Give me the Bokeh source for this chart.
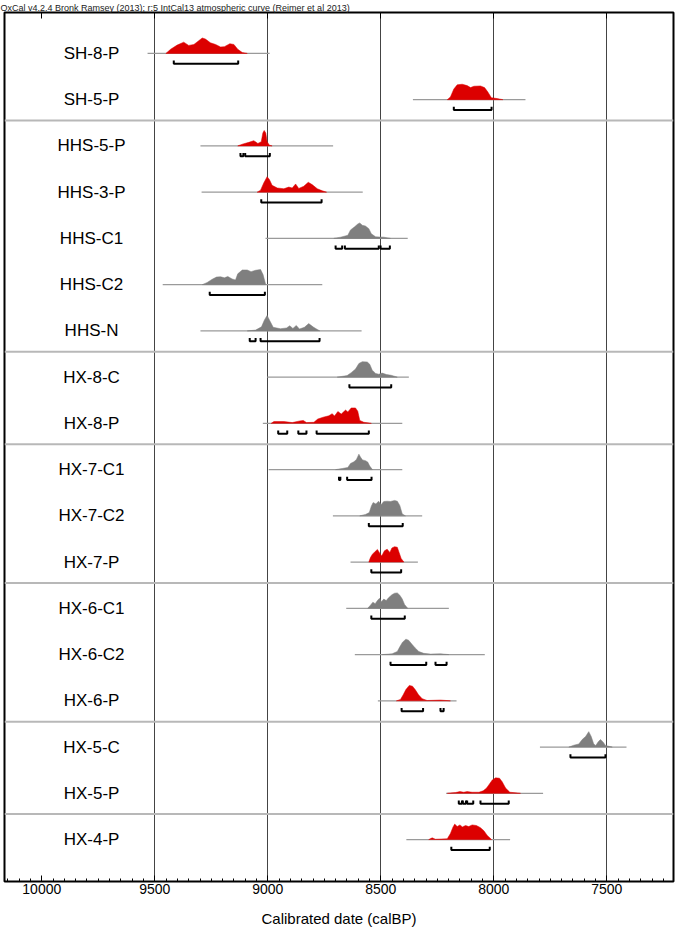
from bokeh.plotting import figure
from bokeh.models import (Range1d, SingleIntervalTicker, FixedTicker, LinearAxis, Span,
                          ColumnDataSource)
from bokeh.embed import file_html
from bokeh.resources import INLINE
from bokeh.core.properties import value

# ---------------- data ----------------
names = ["SH-8-P", "SH-5-P", "HHS-5-P", "HHS-3-P", "HHS-C1", "HHS-C2", "HHS-N",
         "HX-8-C", "HX-8-P", "HX-7-C1", "HX-7-C2", "HX-7-P", "HX-6-C1", "HX-6-C2",
         "HX-6-P", "HX-5-C", "HX-5-P", "HX-4-P"]
is_red = [1, 1, 1, 1, 0, 0, 0, 0, 1, 0, 0, 1, 0, 0, 1, 0, 1, 1]
line_from = [9532, 8358, 9298, 9293, 9010, 9465, 9298, 9003, 9022, 8996, 8712, 8634,
             8653, 8615, 8513, 7796, 8211, 8387]
line_to = [8992, 7860, 8711, 8580, 8381, 8759, 8585, 8376, 8405, 8405, 8317, 8336,
           8199, 8040, 8165, 7413, 7782, 7928]
# group separators drawn below these rows
group_ends = [1, 6, 8, 11, 14, 16]
grid_years = [9500, 9000, 8500, 8000, 7500]

sh8p_t = [9451, 9430, 9401, 9372, 9350, 9327, 9290, 9276, 9254, 9231, 9209, 9192, 9168, 9150, 9133, 9113, 9091]
sh8p_d = [0, 0.27, 0.54, 0.73, 0.52, 0.58, 1.0, 0.93, 0.69, 0.58, 0.42, 0.44, 0.63, 0.58, 0.27, 0.06, 0]
sh5p_t = [8206, 8192, 8177, 8162, 8140, 8118, 8103, 8088, 8059, 8041, 8027, 8011, 7985, 7960]
sh5p_d = [0, 0.18, 0.69, 0.96, 1.0, 0.91, 0.78, 0.87, 0.89, 0.78, 0.51, 0.13, 0.07, 0]
hhs5p_t = [9133, 9113, 9084, 9062, 9044, 9029, 9022, 9016, 9009, 9003, 8993, 8981]
hhs5p_d = [0, 0.11, 0.23, 0.34, 0.16, 0.27, 0.84, 1.0, 0.84, 0.27, 0.05, 0]
hhs3p_t = [9047, 9032, 9018, 9003, 8993, 8981, 8958, 8929, 8907, 8892, 8877, 8863, 8841, 8821, 8804, 8781, 8759, 8740]
hhs3p_d = [0, 0.13, 0.6, 1.0, 0.82, 0.44, 0.27, 0.22, 0.33, 0.27, 0.53, 0.24, 0.38, 0.64, 0.49, 0.22, 0.09, 0]
hhsc1_t = [8708, 8678, 8646, 8634, 8616, 8602, 8593, 8582, 8568, 8553, 8542, 8523, 8487, 8457]
hhsc1_d = [0, 0.08, 0.2, 0.55, 0.75, 0.93, 1.0, 0.85, 0.8, 0.63, 0.3, 0.1, 0.08, 0]
hhsc2_t = [9290, 9268, 9246, 9227, 9209, 9192, 9177, 9158, 9143, 9133, 9113, 9091, 9074, 9054, 9032, 9021, 9009]
hhsc2_d = [0, 0.14, 0.35, 0.49, 0.51, 0.44, 0.53, 0.37, 0.3, 0.7, 0.95, 0.95, 0.84, 0.93, 0.98, 0.65, 0]
hhsn_t = [9091, 9054, 9028, 9015, 9003, 8991, 8976, 8944, 8917, 8903, 8889, 8874, 8860, 8838, 8819, 8797, 8770]
hhsn_d = [0, 0.05, 0.26, 0.7, 1.0, 0.65, 0.23, 0.14, 0.19, 0.33, 0.16, 0.35, 0.12, 0.23, 0.47, 0.23, 0]
hx8c_t = [8693, 8649, 8631, 8612, 8597, 8582, 8560, 8549, 8538, 8523, 8509, 8494, 8475, 8454, 8427]
hx8c_d = [0, 0.1, 0.29, 0.52, 0.88, 1.0, 0.98, 0.83, 0.45, 0.24, 0.19, 0.26, 0.17, 0.12, 0]
hx8p_t = [8985, 8973, 8929, 8892, 8858, 8843, 8829, 8796, 8779, 8755, 8730, 8715, 8705, 8690, 8675, 8656, 8646,
          8631, 8612, 8602, 8593, 8575, 8542]
hx8p_d = [0, 0.12, 0.12, 0.05, 0.16, 0.19, 0.05, 0.07, 0.28, 0.4, 0.49, 0.63, 0.47, 0.77, 0.6, 0.86, 0.74,
          1.0, 1.0, 0.79, 0.19, 0.07, 0]
hx7c1_t = [8700, 8671, 8646, 8634, 8619, 8608, 8597, 8590, 8581, 8568, 8558, 8549, 8537]
hx7c1_d = [0, 0.07, 0.14, 0.4, 0.51, 0.65, 1.0, 0.81, 0.63, 0.58, 0.49, 0.23, 0]
hx7c2_t = [8593, 8568, 8551, 8542, 8534, 8522, 8510, 8498, 8487, 8472, 8457, 8439, 8427, 8416, 8405, 8391]
hx7c2_d = [0, 0.09, 0.21, 0.63, 0.86, 0.77, 0.95, 0.74, 0.93, 0.95, 0.93, 1.0, 0.95, 0.67, 0.12, 0]
hx7p_t = [8553, 8546, 8537, 8525, 8515, 8504, 8496, 8484, 8472, 8460, 8451, 8439, 8427, 8419, 8410, 8398]
hx7p_d = [0, 0.29, 0.51, 0.69, 0.82, 0.56, 0.4, 0.73, 0.84, 0.62, 0.91, 1.0, 0.96, 0.62, 0.24, 0]
hx6c1_t = [8558, 8546, 8535, 8525, 8515, 8506, 8497, 8487, 8476, 8466, 8451, 8439, 8427, 8416, 8405, 8395, 8381]
hx6c1_d = [0, 0.2, 0.4, 0.3, 0.5, 0.65, 0.43, 0.6, 0.5, 0.68, 0.88, 0.98, 1.0, 0.85, 0.6, 0.25, 0]
hx6c2_t = [8494, 8450, 8427, 8416, 8404, 8389, 8377, 8363, 8348, 8332, 8310, 8280, 8236, 8199]
hx6c2_d = [0, 0.05, 0.2, 0.5, 0.8, 1.0, 0.93, 0.68, 0.43, 0.2, 0.08, 0.03, 0.05, 0]
hx6p_t = [8431, 8413, 8401, 8389, 8374, 8360, 8348, 8333, 8317, 8295, 8236, 8192]
hx6p_d = [0, 0.09, 0.39, 0.73, 1.0, 0.95, 0.73, 0.39, 0.14, 0.02, 0.05, 0]
hx5c_t = [7668, 7646, 7624, 7609, 7594, 7580, 7569, 7558, 7549, 7538, 7528, 7516, 7506, 7476]
hx5c_d = [0, 0.12, 0.2, 0.49, 0.68, 1.0, 0.68, 0.2, 0.1, 0.34, 0.49, 0.32, 0.1, 0]
hx5p_t = [8206, 8169, 8150, 8133, 8118, 8096, 8066, 8047, 8032, 8020, 8007, 7992, 7975, 7963, 7948, 7929, 7882]
hx5p_d = [0, 0.05, 0.11, 0.07, 0.11, 0.07, 0.07, 0.16, 0.34, 0.59, 0.86, 1.0, 0.98, 0.75, 0.34, 0.07, 0]
hx4p_t = [8288, 8273, 8258, 8206, 8192, 8181, 8173, 8162, 8150, 8139, 8125, 8111, 8096, 8077, 8059, 8044, 8029, 8010]
hx4p_d = [0, 0.11, 0.02, 0.05, 0.39, 0.8, 1.0, 0.84, 0.95, 0.82, 0.91, 0.84, 0.95, 0.91, 0.77, 0.57, 0.27, 0]

dist_t = [sh8p_t, sh5p_t, hhs5p_t, hhs3p_t, hhsc1_t, hhsc2_t, hhsn_t, hx8c_t, hx8p_t, hx7c1_t,
          hx7c2_t, hx7p_t, hx6c1_t, hx6c2_t, hx6p_t, hx5c_t, hx5p_t, hx4p_t]
dist_d = [sh8p_d, sh5p_d, hhs5p_d, hhs3p_d, hhsc1_d, hhsc2_d, hhsn_d, hx8c_d, hx8p_d, hx7c1_d,
          hx7c2_d, hx7p_d, hx6c1_d, hx6c2_d, hx6p_d, hx5c_d, hx5p_d, hx4p_d]

# 95.4% ranges (from, to) in calBP
ranges95 = [
    [(9416, 9131)],
    [(8177, 8010)],
    [(9121, 9108), (9100, 8991)],
    [(9029, 8762)],
    [(8700, 8671), (8659, 8509), (8501, 8460)],
    [(9257, 9013)],
    [(9080, 9054), (9032, 8771)],
    [(8639, 8454)],
    [(8954, 8914), (8865, 8829), (8784, 8553)],
    [(8685, 8679), (8649, 8541)],
    [(8553, 8403)],
    [(8542, 8410)],
    [(8542, 8394)],
    [(8457, 8299), (8258, 8209)],
    [(8408, 8313), (8236, 8222)],
    [(7661, 7506)],
    [(8155, 8141), (8137, 8123), (8118, 8091), (8059, 7934)],
    [(8188, 8018)],
]

# ---------------- styling ----------------
RED = "#dc0000"
GREY = "#7f7f7f"
H = 0.334          # peak height in row units
BR_OFF = 0.225     # bracket drop below baseline
BR_TICK = 0.07
FONT = "Liberation Sans"

p = figure(width=677, height=930, output_backend="svg", toolbar_location=None,
           x_range=Range1d(10165, 7205), y_range=Range1d(-17.907, 0.885),
           min_border_left=4, min_border_right=4, min_border_top=0, min_border_bottom=49,
           y_axis_location=None,
           title="OxCal v4.2.4 Bronk Ramsey (2013); r:5 IntCal13 atmospheric curve (Reimer et al 2013)")
p.title.text_font = FONT
p.title.text_font_size = "9px"
p.title.text_font_style = "normal"
p.title.text_color = "#222222"
p.title.standoff = 0
p.title.offset = -4

p.outline_line_color = "black"
p.outline_line_width = 2
p.background_fill_color = "white"

p.ygrid.visible = False
p.xgrid.ticker = FixedTicker(ticks=grid_years)
p.xgrid.grid_line_color = "#444444"
p.xgrid.grid_line_width = 1

ax = p.xaxis[0]
ax.ticker = SingleIntervalTicker(interval=500, num_minor_ticks=10)
ax.axis_line_color = None
ax.major_tick_in = 6
ax.major_tick_out = 0
ax.minor_tick_in = 3
ax.minor_tick_out = 0
ax.major_tick_line_color = "black"
ax.minor_tick_line_color = "black"
ax.major_label_text_font = FONT
ax.major_label_text_font_size = "14px"
ax.major_label_text_color = "black"
ax.major_label_standoff = 2
ax.axis_label = "Calibrated date (calBP)"
ax.axis_label_text_font = FONT
ax.axis_label_text_font_size = "15px"
ax.axis_label_text_font_style = "normal"
ax.axis_label_text_color = "black"
ax.axis_label_standoff = 13

top = LinearAxis(ticker=SingleIntervalTicker(interval=500, num_minor_ticks=0),
                 axis_line_color=None, major_tick_in=6, major_tick_out=0,
                 minor_tick_line_color=None, major_label_text_font_size="1px",
                 major_label_text_color=None, major_label_standoff=0)
p.add_layout(top, "above")

for r in group_ends:
    p.add_layout(Span(location=-(r + 0.45), dimension="width", line_color="#b8b8b8", line_width=2))

# baselines
p.segment(x0=line_from, y0=[-i for i in range(len(names))], x1=line_to,
          y1=[-i for i in range(len(names))], line_color="#9a9a9a", line_width=1.2)

# distributions
xs, ys, cols = [], [], []
for i, (t, d) in enumerate(zip(dist_t, dist_d)):
    xs.append(t)
    ys.append([-i + v * H for v in d])
    cols.append(RED if is_red[i] else GREY)
p.patches(xs=xs, ys=ys, fill_color=cols, line_color=cols, line_width=0.5)

# 95% range brackets
bx, by = [], []
for i, rs in enumerate(ranges95):
    yb = -i - BR_OFF
    for a, b in rs:
        bx.append([a, a, b, b])
        by.append([yb + BR_TICK, yb, yb, yb + BR_TICK])
p.multi_line(xs=bx, ys=by, line_color="black", line_width=2)

# labels
lab = ColumnDataSource(dict(x=[9780] * len(names), y=[-i for i in range(len(names))], t=names))
p.text(x="x", y="y", text="t", source=lab, text_align="center", text_baseline="middle",
       text_font=value(FONT), text_font_size="17px", text_color="black")

open("out.html", "w").write(file_html(p, INLINE))
